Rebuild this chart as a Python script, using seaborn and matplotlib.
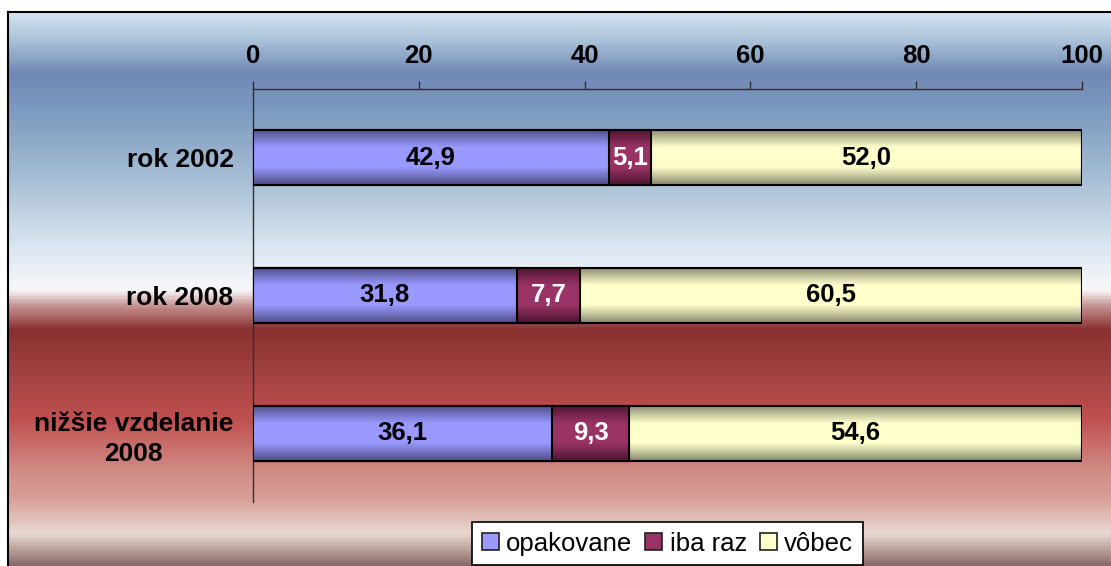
import numpy as np
import pandas as pd
import seaborn as sns
import matplotlib.pyplot as plt
from matplotlib.colors import LinearSegmentedColormap, to_rgb
from matplotlib.patches import Patch

categories = ["rok 2002", "rok 2008", "nižšie vzdelanie\n2008"]
series_names = ["opakovane", "iba raz", "vôbec"]
opakovane = [42.9, 31.8, 36.1]
iba_raz = [5.1, 7.7, 9.3]
vobec = [52.0, 60.5, 54.6]
x_ticks = [0, 20, 40, 60, 80, 100]

light_cols = ["#9999ff", "#993366", "#ffffcc"]
dark_cols = ["#4a4a7e", "#48132e", "#82826a"]
text_cols = ["black", "white", "black"]

sns.set_style("white")
plt.rcParams['font.family'] = ['Liberation Sans', 'DejaVu Sans']
plt.rcParams['text.color'] = 'black'
plt.rcParams['xtick.color'] = 'black'
plt.rcParams['ytick.color'] = 'black'

fig = plt.figure(figsize=(11.11, 5.66), dpi=100)

# background panel with the office-style gradient
bg = fig.add_axes([8 / 1111, -0.01, 1.0, (566 - 12) / 566 + 0.01])
stops = [(12, "#d2e4f0"), (40, "#a8c0d8"), (72, "#7088b4"), (110, "#7d9ac0"),
         (180, "#a8c0d6"), (250, "#dde8f2"), (290, "#f8f8fa"), (305, "#c89696"),
         (330, "#8a3030"), (370, "#a04040"), (420, "#c05050"), (470, "#d08a84"),
         (500, "#d8a098"), (535, "#e8d8d2"), (548, "#c4aca6"), (572, "#7a5858")]
pos = [(p - 12) / (572 - 12) for p, _ in stops]
cmap = LinearSegmentedColormap.from_list("bg", list(zip(pos, [c for _, c in stops])))
bg.imshow(np.linspace(0, 1, 400).reshape(-1, 1), cmap=cmap, aspect='auto',
          extent=(0, 1, 0, 1), origin='upper')
bg.set_xticks([])
bg.set_yticks([])
for s in bg.spines.values():
    s.set_color("black")
    s.set_linewidth(1.5)

ax = fig.add_axes([253 / 1111, 1 - 502 / 566, 829 / 1111, 413 / 566])
ax.set_facecolor("none")
ax.set_zorder(2)

df = pd.DataFrame({"cat": categories, "a": opakovane, "b": iba_raz, "c": vobec})
df["cum_b"] = df["a"] + df["b"]
df["cum_c"] = df["cum_b"] + df["c"]

def grad(dark, light, n=120):
    t = np.linspace(0, 1, n)
    f = np.clip((1 - np.abs(2 * t - 1)) / 0.65, 0, 1) ** 0.9
    d, l = np.array(to_rgb(dark)), np.array(to_rgb(light))
    return (d[None, :] * (1 - f[:, None]) + l[None, :] * f[:, None]).reshape(n, 1, 3)

# stacked bars: draw cumulative totals from the back to the front
layers = [("cum_c", 2), ("cum_b", 1), ("a", 0)]
for k, (col, si) in enumerate(layers):
    n0 = len(ax.patches)
    sns.barplot(data=df, x=col, y="cat", orient="h", width=0.4,
                color=light_cols[si], ax=ax)
    img = grad(dark_cols[si], light_cols[si])
    for p in ax.patches[n0:]:
        x0, y0 = p.get_x(), p.get_y()
        w, h = p.get_width(), p.get_height()
        z = 3 + 2 * k
        ax.imshow(img, extent=(x0, x0 + w, y0 + h, y0), aspect='auto', zorder=z)
        p.set_facecolor("none")
        p.set_edgecolor("black")
        p.set_linewidth(1.5)
        p.set_zorder(z + 0.5)

# value labels centred in each segment
lefts = [[0] * 3, list(df["a"]), list(df["cum_b"])]
vals = [opakovane, iba_raz, vobec]
for si in range(3):
    for i in range(3):
        v = vals[si][i]
        ax.text(lefts[si][i] + v / 2, i, f"{v:.1f}".replace(".", ","),
                ha="center", va="center", fontsize=18.5, fontweight="bold",
                color=text_cols[si], zorder=20)

ax.set_xlim(0, 100)
ax.set_ylim(2.5, -0.5)
ax.set_xlabel("")
ax.set_ylabel("")
ax.xaxis.tick_top()
ax.set_xticks(x_ticks)
ax.set_xticklabels([str(t) for t in x_ticks], fontsize=18.5, fontweight="bold")
ax.tick_params(axis="x", direction="out", length=6, width=1, color="#303030",
               pad=9, top=True, bottom=False)
ax.tick_params(axis="y", length=0, pad=14)
for lbl in ax.get_yticklabels():
    lbl.set_fontsize(19)
    lbl.set_fontweight("bold")
    lbl.set_multialignment("center")
    lbl.set_linespacing(1.35)

for side in ["right", "bottom"]:
    ax.spines[side].set_visible(False)
for side in ["top", "left"]:
    ax.spines[side].set_color("#303030")
    ax.spines[side].set_linewidth(1)

handles = [Patch(facecolor=c, edgecolor="#202020", linewidth=1.2) for c in light_cols]
leg = ax.legend(handles, series_names, loc="upper center", bbox_to_anchor=(0.5, -0.048),
                ncol=3, fontsize=18.5, frameon=True, fancybox=False, framealpha=1,
                edgecolor="black", handlelength=0.65, handleheight=0.65,
                handletextpad=0.3, columnspacing=0.5, borderpad=0.38,
                borderaxespad=0)
leg.get_frame().set_linewidth(1.2)

fig.savefig("out.png", dpi=100, facecolor="white")
